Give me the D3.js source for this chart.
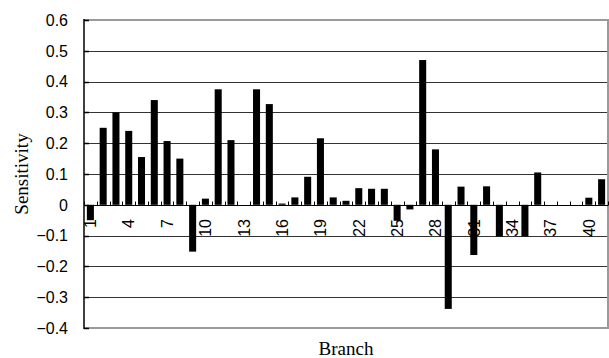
<!DOCTYPE html>
<html>
<head>
<meta charset="utf-8">
<script src="https://cdn.jsdelivr.net/npm/d3@7/dist/d3.min.js"></script>
<style>
  html, body { margin: 0; padding: 0; background: #fff; }
  svg { display: block; }
</style>
</head>
<body>
<svg id="chart" width="609" height="358"></svg>
<script>
// Branch numbers along the x axis
const branches = [1, 2, 3, 4, 5, 6, 7, 8, 9, 10, 11, 12, 13, 14, 15, 16, 17, 18, 19, 20,
  21, 22, 23, 24, 25, 26, 27, 28, 29, 30, 31, 32, 33, 34, 35, 36, 37, 38, 39, 40, 41];

// Sensitivity of each branch
const sensitivity = [-0.05, 0.25, 0.30, 0.24, 0.155, 0.34, 0.207, 0.15, -0.152, 0.02,
  0.375, 0.21, 0, 0.375, 0.327, 0.004, 0.024, 0.091, 0.216, 0.024,
  0.013, 0.054, 0.052, 0.052, -0.052, -0.015, 0.47, 0.18, -0.338, 0.059,
  -0.163, 0.06, -0.103, 0, -0.103, 0.105, 0, 0, 0, 0.023, 0.083];

// Axis ticks
const yTicks = [-0.4, -0.3, -0.2, -0.1, 0, 0.1, 0.2, 0.3, 0.4, 0.5, 0.6];
const xTickLabels = [1, 4, 7, 10, 13, 16, 19, 22, 25, 28, 31, 34, 37, 40];

const yTitle = "Sensitivity";
const xTitle = "Branch";

const svg = d3.select("#chart");
const plotLeft = 84, plotRight = 608, plotTop = 20, plotBottom = 328;

const x = d3.scaleBand()
  .domain(branches)
  .range([plotLeft, plotRight])
  .paddingInner(0.45)
  .paddingOuter(0.225);

const y = d3.scaleLinear().domain([-0.4, 0.6]).range([plotBottom, plotTop]);

const fmt = v => (v === 0 ? "0" : d3.format(".1f")(v));

// horizontal gridlines
svg.append("g")
  .selectAll("line")
  .data(yTicks.filter(v => v !== 0.6 && v !== -0.4))
  .join("line")
  .attr("x1", plotLeft).attr("x2", plotRight)
  .attr("y1", d => Math.round(y(d)) + 0.5).attr("y2", d => Math.round(y(d)) + 0.5)
  .attr("stroke", "#333")
  .attr("stroke-width", 1);

// plot frame (top, right, bottom)
svg.append("path")
  .attr("d", `M${plotLeft},${plotTop}H${plotRight}V${plotBottom}H${plotLeft}`)
  .attr("fill", "none")
  .attr("stroke", "#9a9a9a")
  .attr("stroke-width", 2);

// y axis tick labels
svg.append("g")
  .selectAll("text")
  .data(yTicks)
  .join("text")
  .attr("x", 68)
  .attr("y", d => y(d))
  .attr("dy", "0.36em")
  .attr("text-anchor", "end")
  .attr("font-family", "Liberation Sans, Arial, sans-serif")
  .attr("font-size", 16)
  .attr("fill", "#000")
  .text(fmt);

// x axis labels, rotated, beneath the zero line
svg.append("g")
  .selectAll("text")
  .data(xTickLabels)
  .join("text")
  .attr("transform", d => `translate(${x(d) + x.bandwidth() / 2},219) rotate(-90)`)
  .attr("dy", "0.36em")
  .attr("text-anchor", "end")
  .attr("font-family", "Liberation Sans, Arial, sans-serif")
  .attr("font-size", 16)
  .attr("fill", "#000")
  .text(d => d);

// bars
svg.append("g")
  .selectAll("rect")
  .data(branches.map((b, i) => ({ b, v: sensitivity[i] })))
  .join("rect")
  .attr("x", d => x(d.b))
  .attr("width", x.bandwidth())
  .attr("y", d => Math.min(y(d.v), y(0)))
  .attr("height", d => Math.abs(y(d.v) - y(0)))
  .attr("fill", "#000");

// zero line with category tick marks
const y0 = Math.round(y(0)) + 0.5;
svg.append("line")
  .attr("x1", plotLeft).attr("x2", plotRight)
  .attr("y1", y0).attr("y2", y0)
  .attr("stroke", "#000").attr("stroke-width", 1);

const step = x.step();
const bounds = d3.range(branches.length + 1).map(i => plotLeft + i * step);
svg.append("g")
  .selectAll("line")
  .data(bounds)
  .join("line")
  .attr("x1", d => Math.round(d) + 0.5).attr("x2", d => Math.round(d) + 0.5)
  .attr("y1", y0 - 4).attr("y2", y0)
  .attr("stroke", "#000").attr("stroke-width", 1);

// left axis with inward ticks
svg.append("g")
  .selectAll("line")
  .data(yTicks)
  .join("line")
  .attr("x1", plotLeft).attr("x2", plotLeft + 5)
  .attr("y1", d => Math.round(y(d)) + 0.5).attr("y2", d => Math.round(y(d)) + 0.5)
  .attr("stroke", "#000").attr("stroke-width", 1.5);

svg.append("line")
  .attr("x1", plotLeft).attr("x2", plotLeft)
  .attr("y1", plotTop - 1).attr("y2", plotBottom + 1)
  .attr("stroke", "#000").attr("stroke-width", 1.5);

// axis titles
svg.append("text")
  .attr("transform", `translate(22,${(plotTop + plotBottom) / 2}) rotate(-90)`)
  .attr("dy", "0.33em")
  .attr("text-anchor", "middle")
  .attr("font-family", "Liberation Serif, Times New Roman, serif")
  .attr("font-size", 19)
  .attr("fill", "#000")
  .text(yTitle);

svg.append("text")
  .attr("x", (plotLeft + plotRight) / 2)
  .attr("y", 348)
  .attr("dy", "0.35em")
  .attr("text-anchor", "middle")
  .attr("font-family", "Liberation Serif, Times New Roman, serif")
  .attr("font-size", 19)
  .attr("fill", "#000")
  .text(xTitle);
</script>
</body>
</html>
